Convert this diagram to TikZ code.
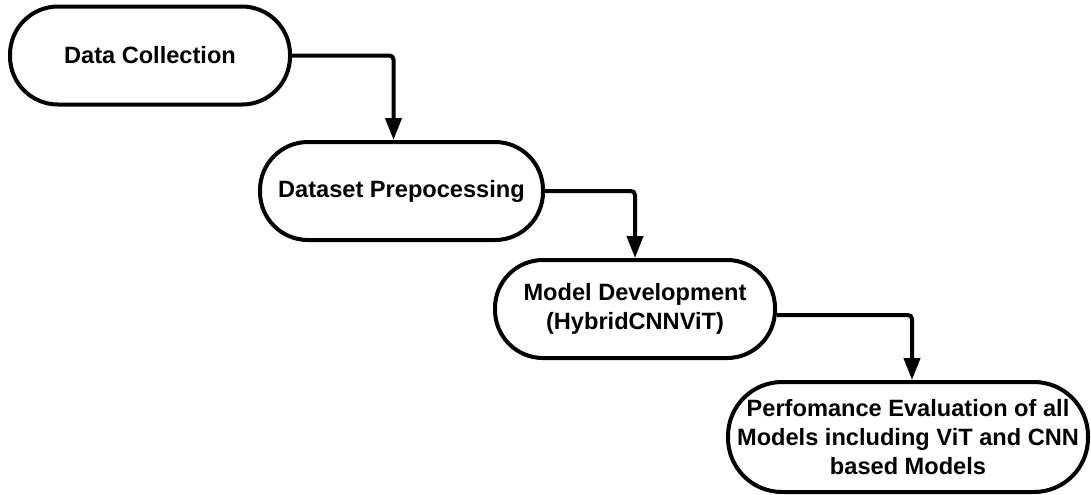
\documentclass[tikz,border=0pt]{standalone}
\usepackage{fontspec}
\setmainfont{Liberation Sans}
\usetikzlibrary{arrows.meta}

\begin{document}
\begin{tikzpicture}[x=0.5pt,y=-0.5pt,
		stage/.style={draw,line width=2pt,rounded corners=24pt,minimum width=140pt,minimum height=49pt,inner sep=0pt,align=center,font=\bfseries\fontsize{11.8}{14.5}\selectfont},
		flow/.style={line width=2pt,rounded corners=2pt,-{Triangle[length=11pt,width=8pt]}}]
		\useasboundingbox (0,0) rectangle (1091,494);
		
		\node[stage](0)at(150,55.5) {Data Collection};
		\node[stage,minimum width=141.5pt](1)at(401.5,191) {Dataset Prepocessing};
		\node[stage](2)at(635,309) {Model Development\\(HybridCNNViT)};
		\node[stage,minimum width=180pt,minimum height=55pt,rounded corners=27pt](3)at(908,437) {Perfomance Evaluation of all\\Models including ViT and CNN\\based Models};
		
		\draw[flow](0.east) -| ([xshift=-4pt]1.north);
		\draw[flow](1.east) -| (2.north);
		\draw[flow]([yshift=-3pt]2.east) -| ([xshift=2pt]3.north);
	\end{tikzpicture}
\end{document}
